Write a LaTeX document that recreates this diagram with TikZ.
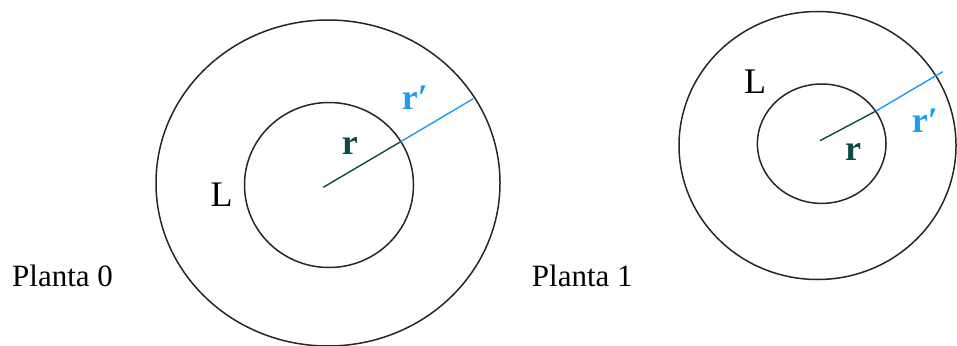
\documentclass[tikz,border=0pt]{standalone}
\usepackage{fontspec}
\setmainfont{Liberation Serif}
\begin{document}
\begin{tikzpicture}[x=1pt,y=-1pt,
  ring/.style={draw=black!85,line width=1.5pt},
  rin/.style={draw=tealdark,line width=1.4pt},
  rout/.style={draw=rblue,line width=1.4pt},
  lbl/.style={inner sep=0pt,anchor=base west},
  plant/.style={lbl,font=\fontsize{31}{31}\selectfont},
  bigL/.style={lbl,font=\fontsize{36}{36}\selectfont},
  rlab/.style={lbl,font=\fontsize{36}{36}\selectfont\bfseries}]
\definecolor{tealdark}{HTML}{0B4A48}
\definecolor{rblue}{HTML}{1C9BF5}
\useasboundingbox (0,0) rectangle (957,345);
% left diagram
\draw[ring] (328,183) ellipse [x radius=172pt, y radius=163pt];
\draw[ring] (329,185) ellipse [x radius=84.5pt, y radius=82.5pt];
\coordinate (c0) at (323.3,187.3);
\coordinate (i0) at (400.7,141.7);
\coordinate (o0) at (473.3,98.7);
\draw[rin] (c0) -- (i0);
\draw[rout] (i0) -- (o0);
\node[rlab,text=tealdark] (r0) at (341.7,154) {r};
\node[rlab,text=rblue] (rp0) at (401.7,109) {r′};
\node[bigL] (L0) at (210.5,206.7) {L};
\node[plant] (P0) at (12,286.7) {Planta 0};
% right diagram
\draw[ring] (817.5,145.5) ellipse [x radius=138.5pt, y radius=134pt];
\draw[ring] (821.7,143.7) ellipse [x radius=64.3pt, y radius=59.7pt];
\coordinate (c1) at (820,140.7);
\coordinate (i1) at (876,111);
\coordinate (o1) at (942.7,71.7);
\draw[rin] (c1) -- (i1);
\draw[rout] (i1) -- (o1);
\node[rlab,text=tealdark] (r1) at (845,160) {r};
\node[rlab,text=rblue] (rp1) at (911.7,132.7) {r′};
\node[bigL] (L1) at (743.8,93) {L};
\node[plant] (P1) at (531.7,286.7) {Planta 1};
\end{tikzpicture}
\end{document}
